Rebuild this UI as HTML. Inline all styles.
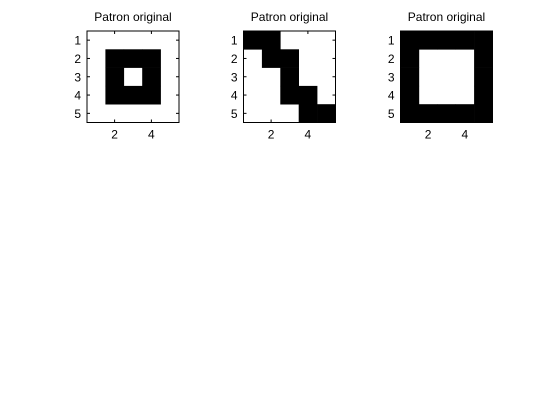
<!DOCTYPE html>
<html><head><meta charset="utf-8"><style>
html,body{margin:0;padding:0;background:#fff}
svg{display:block}
text{font-family:"Liberation Sans",Arial,sans-serif;font-size:12px;fill:#000}
</style></head><body>
<svg id="fig" width="560" height="420"></svg>
<script>
const titles = ["Patron original","Patron original","Patron original"];
const pattern1 = [[0,0,0,0,0],[0,1,1,1,0],[0,1,0,1,0],[0,1,1,1,0],[0,0,0,0,0]];
const pattern2 = [[1,1,0,0,0],[0,1,1,0,0],[0,0,1,0,0],[0,0,1,1,0],[0,0,0,1,1]];
const pattern3 = [[1,1,1,1,1],[1,0,0,0,1],[1,0,0,0,1],[1,0,0,0,1],[1,1,1,1,1]];
const xTicks = [2,4];
const yTicks = [1,2,3,4,5];
const patterns = [pattern1,pattern2,pattern3];
const lefts = [87,243.5,400.5];
const top0 = 31, W = 92, H = 91.5;
const NS = "http://www.w3.org/2000/svg";
const svg = document.getElementById('fig');
function mk(tag, attrs, parent){const e=document.createElementNS(NS,tag);for(const k in attrs)e.setAttribute(k,attrs[k]);(parent||svg).appendChild(e);return e;}
patterns.forEach((p,i)=>{
  const g = mk('g',{});
  
  
  const L = lefts[i];
  const n = p[0].length, m = p.length;
  const px = x => L + (x - 0.5) * W / n;
  const py = y => top0 + (y - 0.5) * H / m;
  mk('rect',{x:L,y:top0,width:W,height:H,fill:'#fff'},g);
  p.forEach((row,r)=>row.forEach((v,c)=>{
    if(v){const cell=mk('rect',{x:px(c+0.5),y:py(r+0.5),width:W/n+0.3,height:H/m+0.3,fill:'#000'},g);
      
      }
  }));
  const frame = mk('rect',{x:L,y:top0,width:W,height:H,fill:'none',stroke:'#000','stroke-width':1},g);
  
  
  const t = mk('text',{x:L+W/2,y:top0-10,'text-anchor':'middle'},g);
  t.textContent = titles[i];
  
  
  yTicks.forEach(v=>{
    const y = py(v);
    mk('line',{x1:L,x2:L+3,y1:y,y2:y,stroke:'#000','stroke-width':1},g);
    mk('line',{x1:L+W-3,x2:L+W,y1:y,y2:y,stroke:'#000','stroke-width':1},g);
    const lb = mk('text',{x:L-6,y:y+4.5,'text-anchor':'end'},g);
    lb.textContent = v;
    
    
  });
  xTicks.forEach(v=>{
    const x = px(v);
    mk('line',{x1:x,x2:x,y1:top0+H,y2:top0+H-3,stroke:'#000','stroke-width':1},g);
    mk('line',{x1:x,x2:x,y1:top0,y2:top0+3,stroke:'#000','stroke-width':1},g);
    const lb = mk('text',{x:x,y:top0+H+16,'text-anchor':'middle'},g);
    lb.textContent = v;
    
    
  });
});
</script>
</body></html>
